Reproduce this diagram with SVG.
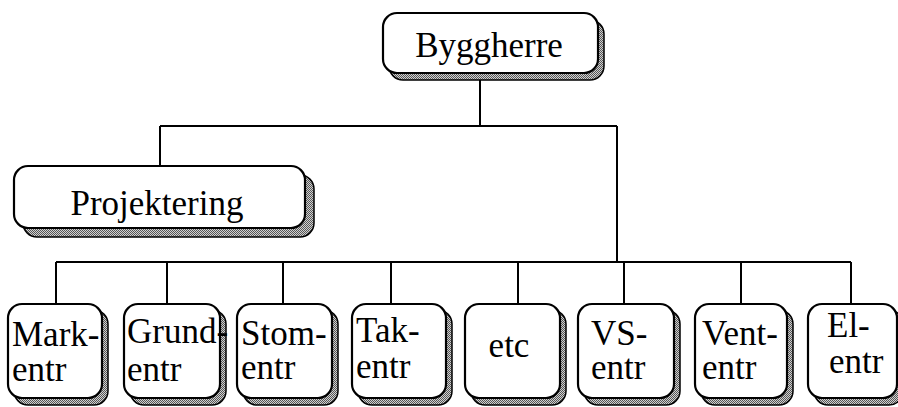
<svg xmlns="http://www.w3.org/2000/svg" width="898" height="407" viewBox="0 0 898 407">
<defs>
<pattern id="dither" width="2" height="2" patternUnits="userSpaceOnUse">
<rect width="2" height="2" fill="#d0d0d0"/>
<rect width="1" height="1" fill="#555"/>
<rect x="1" y="1" width="1" height="1" fill="#555"/>
</pattern>
</defs>
<style>
.box{fill:#fff;stroke:#000;stroke-width:2.2}
.shadow{fill:url(#dither);stroke:#000;stroke-width:1.5}
.t{font-family:"Liberation Serif","Times New Roman",serif;font-size:35px;fill:#000}
.c{text-anchor:middle}
.line{stroke:#000;stroke-width:2;fill:none}
</style>
<rect width="898" height="407" fill="#fff"/>
<g id="connectors">
<path class="line" d="M480 73V126M160 126H617M160 126V166M617 126V262M56 262H851"/>
<path class="line" d="M56 262V304M167 262V304M283 262V304M391 262V304M518 262V304M624 262V304M741 262V304M851 262V304"/>
</g>
<g id="byggherre">
<rect class="shadow" x="389" y="20" width="215" height="60" rx="14"/>
<rect class="box" x="383" y="13" width="215" height="60" rx="14"/>
<text class="t c" x="489" y="57">Byggherre</text>
</g>
<g id="projektering">
<rect class="shadow" x="23" y="175" width="291" height="62" rx="14"/>
<rect class="box" x="14" y="166" width="291" height="62" rx="14"/>
<text class="t c" x="157" y="215">Projektering</text>
</g>
<g id="mark">
<rect class="shadow" x="14" y="310" width="94" height="95" rx="14"/>
<rect class="box" x="8" y="304" width="94" height="94" rx="14"/>
<text class="t" x="12" y="346">Mark-</text><text class="t" x="12" y="381">entr</text>
</g>
<g id="grund">
<rect class="shadow" x="130" y="310" width="96" height="95" rx="14"/>
<rect class="box" x="124" y="304" width="96" height="94" rx="14"/>
<text class="t" x="127" y="343">Grund-</text><text class="t" x="127" y="381">entr</text>
</g>
<g id="stom">
<rect class="shadow" x="243" y="310" width="95" height="95" rx="14"/>
<rect class="box" x="237" y="304" width="95" height="94" rx="14"/>
<text class="t" x="241" y="345">Stom-</text><text class="t" x="241" y="379">entr</text>
</g>
<g id="tak">
<rect class="shadow" x="358" y="310" width="94" height="95" rx="14"/>
<rect class="box" x="352" y="304" width="94" height="94" rx="14"/>
<text class="t" x="356" y="342">Tak-</text><text class="t" x="356" y="378">entr</text>
</g>
<g id="etc">
<rect class="shadow" x="471" y="310" width="95" height="95" rx="14"/>
<rect class="box" x="465" y="304" width="95" height="94" rx="14"/>
<text class="t c" x="509" y="357">etc</text>
</g>
<g id="vs">
<rect class="shadow" x="584" y="310" width="96" height="95" rx="14"/>
<rect class="box" x="578" y="304" width="96" height="94" rx="14"/>
<text class="t" x="591" y="345">VS-</text><text class="t" x="591" y="379">entr</text>
</g>
<g id="vent">
<rect class="shadow" x="701" y="310" width="92" height="95" rx="14"/>
<rect class="box" x="695" y="304" width="92" height="94" rx="14"/>
<text class="t" x="702" y="345">Vent-</text><text class="t" x="702" y="379">entr</text>
</g>
<g id="el">
<rect class="shadow" x="814" y="310" width="89" height="95" rx="14"/>
<rect class="box" x="808" y="304" width="89" height="94" rx="14"/>
<text class="t" x="827" y="337">El-</text><text class="t" x="829" y="373">entr</text>
</g>
</svg>
